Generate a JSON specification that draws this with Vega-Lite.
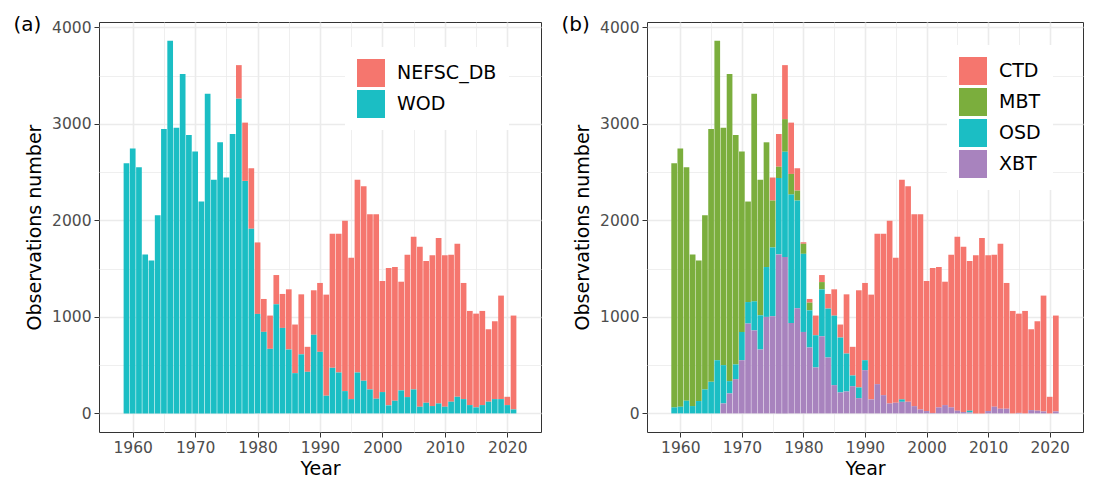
{
  "$schema": "https://vega.github.io/schema/vega-lite/v6.json",
  "padding": {"left": 13, "top": 14, "right": 4, "bottom": 0},
  "background": "white",
  "config": {
    "font": "DejaVu Sans",
    "view": {"stroke": "#333333", "strokeWidth": 1},
    "axis": {
      "domain": false,
      "tickColor": "#333333",
      "tickSize": 5,
      "tickWidth": 1,
      "labelColor": "#4D4D4D",
      "labelFontSize": 15.5,
      "labelPadding": 3,
      "titleFontSize": 19,
      "titleFontWeight": "normal",
      "titleColor": "black",
      "gridColor": "#EBEBEB"
    },
    "legend": {
      "orient": "none",
      "labelFontSize": 19,
      "labelColor": "black",
      "symbolType": "square",
      "symbolSize": 784,
      "symbolStrokeWidth": 0,
      "symbolOpacity": 1,
      "fillColor": "white",
      "padding": 12,
      "rowPadding": 3,
      "labelOffset": 12
    },
    "title": {"fontSize": 20, "fontWeight": "normal", "color": "black", "anchor": "start", "frame": "bounds"}
  },
  "datasets": {
    "a": [
      {"Year":1959,"NEFSC_DB":0,"WOD":2593},{"Year":1960,"NEFSC_DB":0,"WOD":2745},{"Year":1961,"NEFSC_DB":0,"WOD":2552},
      {"Year":1962,"NEFSC_DB":0,"WOD":1648},{"Year":1963,"NEFSC_DB":0,"WOD":1586},{"Year":1964,"NEFSC_DB":0,"WOD":2055},
      {"Year":1965,"NEFSC_DB":0,"WOD":2948},{"Year":1966,"NEFSC_DB":0,"WOD":3862},{"Year":1967,"NEFSC_DB":0,"WOD":2962},
      {"Year":1968,"NEFSC_DB":0,"WOD":3517},{"Year":1969,"NEFSC_DB":0,"WOD":2886},{"Year":1970,"NEFSC_DB":0,"WOD":2714},
      {"Year":1971,"NEFSC_DB":0,"WOD":2196},{"Year":1972,"NEFSC_DB":0,"WOD":3314},{"Year":1973,"NEFSC_DB":0,"WOD":2421},
      {"Year":1974,"NEFSC_DB":0,"WOD":2810},{"Year":1975,"NEFSC_DB":0,"WOD":2445},{"Year":1976,"NEFSC_DB":0,"WOD":2896},
      {"Year":1977,"NEFSC_DB":348,"WOD":3262},{"Year":1978,"NEFSC_DB":604,"WOD":2410},{"Year":1979,"NEFSC_DB":627,"WOD":1914},
      {"Year":1980,"NEFSC_DB":741,"WOD":1031},{"Year":1981,"NEFSC_DB":341,"WOD":845},{"Year":1982,"NEFSC_DB":345,"WOD":669},
      {"Year":1983,"NEFSC_DB":303,"WOD":1131},{"Year":1984,"NEFSC_DB":352,"WOD":886},{"Year":1985,"NEFSC_DB":624,"WOD":662},
      {"Year":1986,"NEFSC_DB":504,"WOD":417},{"Year":1987,"NEFSC_DB":622,"WOD":612},{"Year":1988,"NEFSC_DB":259,"WOD":431},
      {"Year":1989,"NEFSC_DB":461,"WOD":815},{"Year":1990,"NEFSC_DB":714,"WOD":638},{"Year":1991,"NEFSC_DB":1048,"WOD":183},
      {"Year":1992,"NEFSC_DB":1390,"WOD":472},{"Year":1993,"NEFSC_DB":1438,"WOD":424},{"Year":1994,"NEFSC_DB":1765,"WOD":231},
      {"Year":1995,"NEFSC_DB":1466,"WOD":148},{"Year":1996,"NEFSC_DB":1997,"WOD":424},{"Year":1997,"NEFSC_DB":2017,"WOD":338},
      {"Year":1998,"NEFSC_DB":1817,"WOD":248},{"Year":1999,"NEFSC_DB":1913,"WOD":152},{"Year":2000,"NEFSC_DB":1151,"WOD":221},
      {"Year":2001,"NEFSC_DB":1424,"WOD":83},{"Year":2002,"NEFSC_DB":1386,"WOD":131},{"Year":2003,"NEFSC_DB":1127,"WOD":238},
      {"Year":2004,"NEFSC_DB":1476,"WOD":169},{"Year":2005,"NEFSC_DB":1583,"WOD":248},{"Year":2006,"NEFSC_DB":1658,"WOD":69},
      {"Year":2007,"NEFSC_DB":1469,"WOD":110},{"Year":2008,"NEFSC_DB":1562,"WOD":76},{"Year":2009,"NEFSC_DB":1714,"WOD":103},
      {"Year":2010,"NEFSC_DB":1569,"WOD":69},{"Year":2011,"NEFSC_DB":1524,"WOD":121},{"Year":2012,"NEFSC_DB":1586,"WOD":172},
      {"Year":2013,"NEFSC_DB":1204,"WOD":148},{"Year":2014,"NEFSC_DB":976,"WOD":86},{"Year":2015,"NEFSC_DB":972,"WOD":62},
      {"Year":2016,"NEFSC_DB":976,"WOD":86},{"Year":2017,"NEFSC_DB":751,"WOD":121},{"Year":2018,"NEFSC_DB":807,"WOD":148},
      {"Year":2019,"NEFSC_DB":1073,"WOD":148},{"Year":2020,"NEFSC_DB":86,"WOD":86},{"Year":2021,"NEFSC_DB":973,"WOD":41}
    ],
    "b": [
      {"Year":1959,"CTD":0,"MBT":2531,"OSD":62,"XBT":0},{"Year":1960,"CTD":0,"MBT":2676,"OSD":69,"XBT":0},
      {"Year":1961,"CTD":0,"MBT":2421,"OSD":131,"XBT":0},{"Year":1962,"CTD":0,"MBT":1572,"OSD":76,"XBT":0},
      {"Year":1963,"CTD":0,"MBT":1458,"OSD":128,"XBT":0},{"Year":1964,"CTD":0,"MBT":1807,"OSD":248,"XBT":0},
      {"Year":1965,"CTD":0,"MBT":2621,"OSD":327,"XBT":0},{"Year":1966,"CTD":0,"MBT":3311,"OSD":551,"XBT":0},
      {"Year":1967,"CTD":0,"MBT":2462,"OSD":397,"XBT":103},{"Year":1968,"CTD":0,"MBT":3183,"OSD":127,"XBT":207},
      {"Year":1969,"CTD":0,"MBT":2379,"OSD":152,"XBT":355},{"Year":1970,"CTD":0,"MBT":1870,"OSD":293,"XBT":551},
      {"Year":1971,"CTD":0,"MBT":1042,"OSD":223,"XBT":931},{"Year":1972,"CTD":0,"MBT":2153,"OSD":301,"XBT":860},
      {"Year":1973,"CTD":0,"MBT":1404,"OSD":355,"XBT":662},{"Year":1974,"CTD":0,"MBT":1293,"OSD":517,"XBT":1000},
      {"Year":1975,"CTD":239,"MBT":486,"OSD":713,"XBT":1007},{"Year":1976,"CTD":339,"MBT":117,"OSD":792,"XBT":1648},
      {"Year":1977,"CTD":560,"MBT":338,"OSD":1092,"XBT":1620},{"Year":1978,"CTD":532,"MBT":214,"OSD":1331,"XBT":937},
      {"Year":1979,"CTD":232,"MBT":103,"OSD":1116,"XBT":1090},{"Year":1980,"CTD":16,"MBT":104,"OSD":810,"XBT":844},
      {"Year":1981,"CTD":38,"MBT":80,"OSD":385,"XBT":683},{"Year":1982,"CTD":204,"MBT":0,"OSD":334,"XBT":476},
      {"Year":1983,"CTD":73,"MBT":76,"OSD":486,"XBT":799},{"Year":1984,"CTD":152,"MBT":0,"OSD":507,"XBT":579},
      {"Year":1985,"CTD":273,"MBT":0,"OSD":720,"XBT":293},{"Year":1986,"CTD":135,"MBT":0,"OSD":569,"XBT":217},
      {"Year":1987,"CTD":614,"MBT":0,"OSD":393,"XBT":227},{"Year":1988,"CTD":297,"MBT":0,"OSD":111,"XBT":282},
      {"Year":1989,"CTD":1007,"MBT":0,"OSD":111,"XBT":158},{"Year":1990,"CTD":801,"MBT":0,"OSD":103,"XBT":448},
      {"Year":1991,"CTD":1086,"MBT":0,"OSD":0,"XBT":145},{"Year":1992,"CTD":1559,"MBT":0,"OSD":0,"XBT":303},
      {"Year":1993,"CTD":1673,"MBT":0,"OSD":0,"XBT":189},{"Year":1994,"CTD":1893,"MBT":0,"OSD":0,"XBT":103},
      {"Year":1995,"CTD":1504,"MBT":0,"OSD":0,"XBT":110},{"Year":1996,"CTD":2276,"MBT":0,"OSD":25,"XBT":120},
      {"Year":1997,"CTD":2235,"MBT":0,"OSD":0,"XBT":120},{"Year":1998,"CTD":1990,"MBT":0,"OSD":0,"XBT":75},
      {"Year":1999,"CTD":2024,"MBT":0,"OSD":0,"XBT":41},{"Year":2000,"CTD":1348,"MBT":0,"OSD":0,"XBT":24},
      {"Year":2001,"CTD":1502,"MBT":0,"OSD":0,"XBT":5},{"Year":2002,"CTD":1455,"MBT":0,"OSD":0,"XBT":62},
      {"Year":2003,"CTD":1279,"MBT":0,"OSD":0,"XBT":86},{"Year":2004,"CTD":1583,"MBT":0,"OSD":0,"XBT":62},
      {"Year":2005,"CTD":1803,"MBT":0,"OSD":0,"XBT":28},{"Year":2006,"CTD":1713,"MBT":0,"OSD":0,"XBT":14},
      {"Year":2007,"CTD":1551,"MBT":0,"OSD":18,"XBT":10},{"Year":2008,"CTD":1638,"MBT":0,"OSD":0,"XBT":0},
      {"Year":2009,"CTD":1817,"MBT":0,"OSD":0,"XBT":0},{"Year":2010,"CTD":1614,"MBT":0,"OSD":0,"XBT":24},
      {"Year":2011,"CTD":1576,"MBT":0,"OSD":0,"XBT":69},{"Year":2012,"CTD":1710,"MBT":0,"OSD":0,"XBT":48},
      {"Year":2013,"CTD":1304,"MBT":0,"OSD":0,"XBT":48},{"Year":2014,"CTD":1062,"MBT":0,"OSD":0,"XBT":0},
      {"Year":2015,"CTD":1029,"MBT":0,"OSD":0,"XBT":5},{"Year":2016,"CTD":1062,"MBT":0,"OSD":0,"XBT":0},
      {"Year":2017,"CTD":838,"MBT":0,"OSD":0,"XBT":34},{"Year":2018,"CTD":927,"MBT":0,"OSD":0,"XBT":28},
      {"Year":2019,"CTD":1201,"MBT":0,"OSD":0,"XBT":20},{"Year":2020,"CTD":172,"MBT":0,"OSD":0,"XBT":0},
      {"Year":2021,"CTD":994,"MBT":0,"OSD":0,"XBT":20}
    ]
  },
  "spacing": 19,
  "hconcat": [
    {
      "width": 442,
      "height": 410,
      "title": {"text": "(a)", "dx": -12, "offset": -15},
      "data": {"name": "a"},
      "transform": [{"fold": ["NEFSC_DB", "WOD"], "as": ["source", "count"]}],
      "mark": {"type": "bar", "size": 5.7},
      "encoding": {
        "x": {
          "field": "Year", "type": "quantitative",
          "scale": {"domain": [1955.4, 2024.6], "nice": false, "zero": false},
          "axis": {
            "title": "Year",
            "values": [1960,1965,1970,1975,1980,1985,1990,1995,2000,2005,2010,2015,2020],
            "labelExpr": "datum.value % 10 === 0 ? format(datum.value, 'd') : ''",
            "tickOpacity": {"condition": {"test": "datum.value % 10 === 0", "value": 1}, "value": 0},
            "gridWidth": {"condition": {"test": "datum.value % 10 === 0", "value": 1.6}, "value": 0.8},
            "titlePadding": 4
          }
        },
        "y": {
          "field": "count", "type": "quantitative", "stack": "zero",
          "scale": {"domain": [-193, 4057], "nice": false, "zero": false},
          "axis": {
            "title": "Observations number",
            "values": [0,500,1000,1500,2000,2500,3000,3500,4000],
            "labelExpr": "datum.value % 1000 === 0 ? format(datum.value, 'd') : ''",
            "tickOpacity": {"condition": {"test": "datum.value % 1000 === 0", "value": 1}, "value": 0},
            "gridWidth": {"condition": {"test": "datum.value % 1000 === 0", "value": 1.6}, "value": 0.8},
            "titlePadding": 7
          }
        },
        "color": {
          "field": "source", "type": "nominal",
          "scale": {"domain": ["NEFSC_DB", "WOD"], "range": ["#F5766E", "#1BBEC4"]},
          "legend": {"title": null, "legendX": 246, "legendY": 25}
        },
        "order": {"field": "source", "sort": "descending"}
      }
    },
    {
      "width": 436,
      "height": 410,
      "title": {"text": "(b)", "dx": -12, "offset": -15},
      "data": {"name": "b"},
      "transform": [{"fold": ["CTD", "MBT", "OSD", "XBT"], "as": ["source", "count"]}],
      "mark": {"type": "bar", "size": 5.7},
      "encoding": {
        "x": {
          "field": "Year", "type": "quantitative",
          "scale": {"domain": [1955.4, 2024.6], "nice": false, "zero": false},
          "axis": {
            "title": "Year",
            "values": [1960,1965,1970,1975,1980,1985,1990,1995,2000,2005,2010,2015,2020],
            "labelExpr": "datum.value % 10 === 0 ? format(datum.value, 'd') : ''",
            "tickOpacity": {"condition": {"test": "datum.value % 10 === 0", "value": 1}, "value": 0},
            "gridWidth": {"condition": {"test": "datum.value % 10 === 0", "value": 1.6}, "value": 0.8},
            "titlePadding": 4
          }
        },
        "y": {
          "field": "count", "type": "quantitative", "stack": "zero",
          "scale": {"domain": [-193, 4057], "nice": false, "zero": false},
          "axis": {
            "title": "Observations number",
            "values": [0,500,1000,1500,2000,2500,3000,3500,4000],
            "labelExpr": "datum.value % 1000 === 0 ? format(datum.value, 'd') : ''",
            "tickOpacity": {"condition": {"test": "datum.value % 1000 === 0", "value": 1}, "value": 0},
            "gridWidth": {"condition": {"test": "datum.value % 1000 === 0", "value": 1.6}, "value": 0.8},
            "titlePadding": 7
          }
        },
        "color": {
          "field": "source", "type": "nominal",
          "scale": {"domain": ["CTD", "MBT", "OSD", "XBT"], "range": ["#F5766E", "#7BAE3D", "#1BBEC4", "#A883BE"]},
          "legend": {"title": null, "legendX": 300, "legendY": 23}
        },
        "order": {"field": "source", "sort": "descending"}
      }
    }
  ],
  "resolve": {"scale": {"color": "independent"}, "legend": {"color": "independent"}}
}
